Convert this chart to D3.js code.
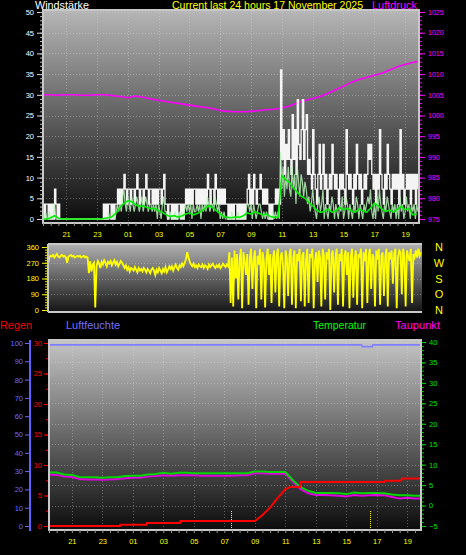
<!DOCTYPE html>
<html><head><meta charset="utf-8">
<script src="https://cdn.jsdelivr.net/npm/d3@7"></script>
<style>
html,body{margin:0;padding:0;background:#000;}
svg{display:block;}
text{font-family:"Liberation Sans",Arial,sans-serif;}
</style>
</head><body>
<svg id="chart" width="466" height="555"></svg>
<script>
// ---------- DATA ----------
// hours are counted from 16 Nov 2025 00:00
const windStartHour = 19.5;       // 16 Nov 19:30
const windStepHours = 5 / 60;     // 5 minute samples
const gust = [
 3.6,0,3.6,3.6,0,3.6,0,3.6,0,7.2,3.6,0,
 3.6,0,0,0,0,0,0,0,0,0,0,0,
 0,0,0,0,0,0,0,0,0,0,0,0,
 0,0,0,0,0,0,0,0,0,0,0,3.6,
 0,3.6,0,3.6,3.6,0,3.6,0,3.6,3.6,7.2,3.6,
 7.2,3.6,7.2,10.8,7.2,3.6,7.2,7.2,3.6,7.2,7.2,3.6,
 7.2,10.8,7.2,3.6,7.2,7.2,3.6,7.2,10.8,7.2,3.6,7.2,
 7.2,3.6,7.2,3.6,7.2,3.6,7.2,7.2,3.6,7.2,10.8,3.6,
 3.6,0,3.6,3.6,0,3.6,0,3.6,0,3.6,3.6,0,
 3.6,0,3.6,7.2,3.6,7.2,3.6,7.2,3.6,7.2,7.2,3.6,
 7.2,3.6,7.2,3.6,7.2,3.6,7.2,3.6,10.8,7.2,3.6,7.2,
 7.2,3.6,10.8,7.2,3.6,7.2,3.6,7.2,3.6,7.2,3.6,3.6,
 0,3.6,0,3.6,0,3.6,3.6,0,3.6,0,3.6,0,
 3.6,0,3.6,7.2,10.8,3.6,7.2,3.6,10.8,7.2,3.6,7.2,
 7.2,10.8,7.2,3.6,7.2,3.6,7.2,3.6,0,3.6,0,3.6,
 3.6,7.2,3.6,7.2,3.6,36,14.4,21.6,10.8,18,14.4,21.6,
 14.4,10.8,25.2,14.4,21.6,10.8,28.8,18,14.4,21.6,28.8,14.4,
 21.6,25.2,10.8,14.4,10.8,7.2,21.6,10.8,7.2,3.6,10.8,18,
 7.2,10.8,18,7.2,10.8,3.6,7.2,10.8,7.2,18,10.8,7.2,
 10.8,7.2,3.6,10.8,7.2,10.8,7.2,3.6,21.6,10.8,7.2,10.8,
 7.2,3.6,10.8,7.2,18,10.8,7.2,10.8,3.6,7.2,10.8,7.2,
 10.8,18,14.4,18,10.8,7.2,10.8,3.6,10.8,7.2,21.6,10.8,
 7.2,3.6,10.8,7.2,18,10.8,7.2,3.6,10.8,7.2,10.8,7.2,
 10.8,3.6,21.6,7.2,10.8,3.6,7.2,10.8,7.2,10.8,3.6,10.8,
 7.2,10.8,3.6,10.8,7.2
];
const windSpeed = [
 0,0,1.8,0,0,1.8,0,0,0,3.6,0,0,
 0,0,0,0,0,0,0,0,0,0,0,0,
 0,0,0,0,0,0,0,0,0,0,0,0,
 0,0,0,0,0,0,0,0,0,0,0,0,
 0,0,0,1.8,0,0,1.8,0,0,1.8,3.6,1.8,
 3.6,1.8,5.4,7.2,3.6,1.8,5.4,3.6,1.8,5.4,3.6,1.8,
 3.6,5.4,3.6,1.8,3.6,5.4,1.8,3.6,5.4,3.6,1.8,3.6,
 3.6,1.8,3.6,1.8,3.6,0,3.6,1.8,0,3.6,5.4,1.8,
 1.8,0,0,1.8,0,0,0,1.8,0,0,1.8,0,
 1.8,0,1.8,3.6,1.8,3.6,1.8,3.6,0,3.6,1.8,1.8,
 3.6,1.8,3.6,0,3.6,1.8,3.6,1.8,5.4,3.6,1.8,3.6,
 3.6,1.8,5.4,3.6,1.8,3.6,0,1.8,0,1.8,0,0,
 0,0,0,1.8,0,0,0,0,1.8,0,0,0,
 0,0,1.8,3.6,3.6,1.8,3.6,0,3.6,1.8,0,1.8,
 3.6,3.6,1.8,0,1.8,0,1.8,0,0,0,0,1.8,
 0,1.8,0,1.8,0,16.2,7.2,12.6,5.4,10.8,7.2,12.6,
 7.2,5.4,12.6,7.2,10.8,3.6,12.6,9,5.4,10.8,9,5.4,
 9,7.2,3.6,5.4,1.8,3.6,7.2,3.6,1.8,0,3.6,5.4,
 1.8,3.6,7.2,0,3.6,1.8,0,3.6,1.8,5.4,3.6,0,
 3.6,1.8,0,3.6,1.8,5.4,0,1.8,5.4,3.6,0,3.6,
 1.8,0,3.6,1.8,5.4,3.6,0,3.6,1.8,0,3.6,1.8,
 3.6,5.4,3.6,7.2,1.8,0,3.6,0,5.4,1.8,7.2,3.6,
 1.8,0,3.6,1.8,5.4,3.6,1.8,0,3.6,1.8,3.6,0,
 3.6,0,5.4,1.8,3.6,0,1.8,5.4,1.8,3.6,0,3.6,
 1.8,3.6,0,3.6,1.8
];
const windDir = [
 260,300,310,305,315,300,310,320,305,300,310,315,
 305,310,300,270,305,310,315,305,310,300,305,310,
 305,310,300,305,310,300,305,300,210,280,220,260,
 270,15,250,280,265,240,275,260,285,270,250,275,
 265,280,255,270,285,260,275,250,265,280,270,255,
 240,255,230,245,220,240,235,225,245,230,215,240,
 225,235,220,240,230,215,235,225,210,230,240,225,
 200,230,215,240,225,210,235,220,245,215,230,250,
 235,250,225,245,260,240,230,255,245,265,250,270,
 290,330,300,275,260,250,265,245,255,240,260,250,
 245,260,240,255,250,235,260,245,255,265,250,240,
 255,245,260,240,250,265,255,245,260,250,330,40,
 300,20,340,180,320,60,290,350,10,330,280,200,
 320,30,300,350,120,290,340,10,310,260,350,60,
 330,280,15,300,350,200,320,40,290,340,100,310,
 350,20,300,330,250,10,340,300,80,320,350,30,
 300,340,10,320,280,350,50,310,330,20,290,350,
 40,320,300,350,10,280,330,160,340,300,20,350,
 310,60,330,290,350,0,320,340,100,300,350,30,
 320,280,350,20,310,340,200,330,10,300,350,70,
 290,340,30,320,300,350,10,330,280,350,40,310,
 350,120,320,300,20,340,290,350,30,310,330,80,
 300,350,20,330,290,340,150,320,350,10,300,340,
 330,90,350,300,20,340,310,280,350,40,320,300,
 340,300,350,310,330
];
const avgStepHours = 15 / 60;
const windAvg = [
 0,0,0.3,0.8,0.2,0,0,0,0,0,0,0,0,0,0,0,0.2,0.3,
 0.6,1.5,2.8,3.8,4.4,4.2,3.5,3.0,3.2,2.8,2.5,2.6,2.0,1.6,1.0,0.6,
 0.8,0.5,0.7,1.2,1.5,1.0,1.3,1.8,2.5,3.2,2.8,2.0,1.2,0.6,0.4,0.3,
 0.5,0.4,0.8,1.5,1.2,1.8,1.4,1.0,1.2,0.6,0.4,0.5,
 10.5,9.5,8.8,7.5,6.5,5.5,5.0,4.0,3.2,2.2,1.6,1.8,
 2.4,1.6,2.0,2.8,2.2,2.6,2.0,1.6,2.4,2.0,1.6,2.6,
 3.8,3.2,2.4,1.8,2.2,1.6,2.4,3.0,2.2,2.6,1.0,1.2
];
const halfStepHours = 0.5;        // 30 minute samples from 19:30
const pressure = [
 1005.0,1005.0,1004.9,1005.0,1005.0,1004.9,1004.9,1005.0,1005.0,
 1004.8,1004.6,1004.3,1004.7,1004.4,1004.0,1003.7,1003.4,1003.1,1002.8,
 1002.5,1002.2,1002.0,1001.7,1001.2,1001.0,1000.9,1000.9,1001.0,1001.2,
 1001.4,1001.5,1001.8,1002.3,1003.0,1003.6,1004.1,1004.6,1005.4,1006.2,
 1007.1,1008.0,1008.7,1009.2,1009.7,1010.2,1011.0,1011.8,1012.3,1012.8,1013.2
];
const temperature = [
 8.1,8.1,7.6,7.5,7.0,6.9,6.9,6.8,6.9,
 6.9,7.2,7.3,7.3,7.6,7.7,8.0,7.8,8.0,8.0,
 7.9,7.9,7.9,7.9,7.9,7.9,7.9,7.9,
 8.3,8.3,8.2,8.2,8.2,
 6.2,4.5,3.6,3.1,3.1,3.1,3.0,2.8,3.2,3.0,
 3.1,3.1,3.0,2.7,2.5,2.5,2.4,2.4
];
const dewPoint = [
 7.6,7.5,7.1,7.0,6.5,6.4,6.4,6.3,6.4,
 6.5,6.7,6.8,6.8,7.1,7.2,7.4,7.3,7.4,7.4,
 7.4,7.3,7.3,7.3,7.3,7.3,7.4,7.4,
 7.9,7.9,7.8,7.8,7.8,
 5.8,4.0,3.0,2.6,2.6,2.5,2.4,2.2,2.6,2.4,
 2.5,2.6,2.5,2.1,1.7,1.9,1.7,1.7
];
const rainHours  = [19.5,24.15,24.17,25.9,25.92,28.1,28.12,33.0,33.2,33.5,34.0,34.5,35.0,35.3,35.96,36.0,41.5,41.55,42.6,42.65,43.9];
const rainValues = [0,0,0.2,0.2,0.5,0.5,0.8,0.8,1.2,1.8,3.0,4.6,6.0,6.4,6.4,7.2,7.2,7.4,7.4,7.8,7.8];
const humidityHours  = [19.5,40.0,40.05,40.7,40.75,43.9];
const humidityValues = [99,99,98,98,99,99];
const sunEvents = [31.43, 40.55];   // sunrise, sunset
const windTicks = [0,5,10,15,20,25,30,35,40,45,50];
const pressureTicks = [975,980,985,990,995,1000,1005,1010,1015,1020,1025];
const dirTicks = [0,90,180,270,360];
const dirLetters = ["N","W","S","O","N"];
const humidityTicks = [0,10,20,30,40,50,60,70,80,90,100];
const rainTicks = [0,5,10,15,20,25,30];
const tempTicks = [-5,0,5,10,15,20,25,30,35,40];

// ---------- SETUP ----------
const base = new Date(2025, 10, 16, 0, 0).getTime();
const at = h => new Date(base + h * 3600000);
const tStart = at(19.5), tEnd = at(43.9);
const fmtH = d3.timeFormat("%H");
const hourTicks = d3.range(21, 44, 2).map(at);
const halfHourTicks = d3.range(19.5, 44, 0.5).map(at);

const svg = d3.select("#chart");
const defs = svg.append("defs");
function grad(id, c1, c2) {
  const g = defs.append("linearGradient").attr("id", id).attr("x1",0).attr("y1",0).attr("x2",0).attr("y2",1);
  g.append("stop").attr("offset","0%").attr("stop-color",c1);
  g.append("stop").attr("offset","100%").attr("stop-color",c2);
}
grad("gTop", "#b6b6b6", "#0a0a0a");
grad("gDir", "#b0b0b0", "#141414");
grad("gBot", "#c4c4c4", "#0c0c0c");

function panel(id, x, y, w, h, gid) {
  defs.append("clipPath").attr("id", id).append("rect").attr("x", x).attr("y", y).attr("width", w).attr("height", h);
  svg.append("rect").attr("x", x).attr("y", y).attr("width", w).attr("height", h).attr("fill", `url(#${gid})`);
}
function frame(x, y, w, h) {
  svg.append("rect").attr("x", x).attr("y", y).attr("width", w).attr("height", h)
    .attr("fill","none").attr("stroke","#c8c8c8").attr("stroke-width",2);
}
function styleAxis(g, color, size) {
  g.select(".domain").remove();
  g.selectAll("line").attr("stroke", color);
  g.selectAll("text").attr("fill", color).attr("font-size", size).attr("font-family", '"Liberation Sans",Arial,sans-serif');
  g.attr("font-size", size);
}
function hgrid(xs, ys, vals, x0, x1) {
  svg.append("g").selectAll("line").data(vals).join("line")
    .attr("x1", x0).attr("x2", x1).attr("y1", d => Math.round(ys(d)) + 0.5).attr("y2", d => Math.round(ys(d)) + 0.5)
    .attr("stroke", "#e0e0e0").attr("stroke-opacity", 0.35).attr("stroke-dasharray", "1,2");
}
function vgrid(xs, y0, y1) {
  svg.append("g").selectAll("line").data(hourTicks).join("line")
    .attr("x1", d => Math.round(xs(d)) + 0.5).attr("x2", d => Math.round(xs(d)) + 0.5).attr("y1", y0).attr("y2", y1)
    .attr("stroke", "#e0e0e0").attr("stroke-opacity", 0.35).attr("stroke-dasharray", "1,2");
}
const txt = (x, y, s, color, size, len) => {
  const t = svg.append("text").attr("x", x).attr("y", y).text(s)
    .attr("fill", color).attr("font-size", size);
  if (len) t.attr("textLength", len).attr("lengthAdjust", "spacingAndGlyphs");
  return t;
};

// ---------- TOP PANEL: wind + pressure ----------
const TX = 43, TY = 10, TW = 376, TH = 213;
const xTop = d3.scaleTime().domain([tStart, tEnd]).range([TX, TX + TW]);
const yWind = d3.scaleLinear().domain([0, 50]).range([219, 12]);
const yPres = d3.scaleLinear().domain([975, 1025]).range([219, 12]);
panel("cTop", TX, TY, TW, TH, "gTop");
hgrid(xTop, yWind, windTicks.slice(1), TX, TX + TW);
vgrid(xTop, TY, TY + TH);

const wt = i => at(windStartHour + i * windStepHours);
const gT = svg.append("g").attr("clip-path", "url(#cTop)");
gT.append("path").datum(pressure).attr("fill","none").attr("stroke","#ff00ff").attr("stroke-width",1.6)
  .attr("d", d3.line().x((d,i) => xTop(at(windStartHour + i * halfStepHours))).y(d => yPres(d)));
gT.append("path").datum(gust).attr("fill","none").attr("stroke","#f4f4f4").attr("stroke-width",1.3)
  .attr("d", d3.line().x((d,i) => xTop(wt(i))).y(d => yWind(d)).curve(d3.curveStepAfter));
gT.append("path").datum(windSpeed).attr("fill","none").attr("stroke","#b8f2b8").attr("stroke-opacity",0.85).attr("stroke-width",1.2)
  .attr("d", d3.line().x((d,i) => xTop(wt(i))).y(d => yWind(d)));
gT.append("path").datum(windAvg).attr("fill","none").attr("stroke","#00ee00").attr("stroke-width",1.6)
  .attr("d", d3.line().x((d,i) => xTop(at(windStartHour + i * avgStepHours))).y(d => yWind(d)));
frame(TX, TY, TW, TH);

const axWl = svg.append("g").attr("transform", `translate(${TX-1},0)`)
  .call(d3.axisLeft(yWind).tickValues(windTicks).tickSize(5).tickPadding(3));
styleAxis(axWl, "#dcdcdc", "7.5px");
axWl.selectAll("text").attr("fill", "#ffffff");
const axWm = svg.append("g").attr("transform", `translate(${TX-1},0)`)
  .call(d3.axisLeft(yWind).tickValues(d3.range(0, 51, 1)).tickSize(2).tickFormat(""));
styleAxis(axWm, "#bdbdbd", "7px");
const axP = svg.append("g").attr("transform", `translate(${TX+TW+1},0)`)
  .call(d3.axisRight(yPres).tickValues(pressureTicks).tickSize(5).tickPadding(3).tickFormat(d3.format("d")));
styleAxis(axP, "#ff00ff", "7px");
const axPm = svg.append("g").attr("transform", `translate(${TX+TW+1},0)`)
  .call(d3.axisRight(yPres).tickValues(d3.range(975, 1026, 1)).tickSize(2).tickFormat(""));
styleAxis(axPm, "#ff00ff", "7px");
const axTx = svg.append("g").attr("transform", `translate(0,${TY+TH})`)
  .call(d3.axisBottom(xTop).tickValues(halfHourTicks).tickSize(3).tickFormat(""));
styleAxis(axTx, "#9a9a9a", "7px");
const axTl = svg.append("g").attr("transform", `translate(0,${TY+TH})`)
  .call(d3.axisBottom(xTop).tickValues(hourTicks).tickSize(0).tickPadding(9).tickFormat(fmtH));
styleAxis(axTl, "#ffff00", "7.5px");

txt(35, 9, "Windstärke", "#ffffff", "11px", 54);
txt(172, 9, "Current last 24 hours 17 November 2025", "#ffff00", "11px", 191);
txt(372, 9, "Luftdruck", "#ff00ff", "11px", 45);

// ---------- WIND DIRECTION PANEL ----------
const DX = 48, DY = 244, DW = 374, DH = 68;
const xDir = d3.scaleTime().domain([tStart, tEnd]).range([DX, DX + DW]);
const yDir = d3.scaleLinear().domain([0, 360]).range([310, 247]);
panel("cDir", DX, DY, DW, DH, "gDir");
hgrid(xDir, yDir, [90, 180, 270], DX, DX + DW);
svg.append("g").attr("clip-path", "url(#cDir)").append("path").datum(windDir)
  .attr("fill","none").attr("stroke","#ffff00").attr("stroke-width",1.8)
  .attr("d", d3.line().x((d,i) => xDir(wt(i))).y(d => yDir(d)));
svg.append("line").attr("x1",DX).attr("x2",DX+DW).attr("y1",DY).attr("y2",DY).attr("stroke","#c8c8c8").attr("stroke-width",2);
svg.append("line").attr("x1",DX).attr("x2",DX+DW).attr("y1",DY+DH).attr("y2",DY+DH).attr("stroke","#c8c8c8").attr("stroke-width",2);
svg.append("line").attr("x1",DX).attr("x2",DX).attr("y1",DY).attr("y2",DY+DH).attr("stroke","#c8c8c8").attr("stroke-width",2);
const axD = svg.append("g").attr("transform", `translate(${DX-1},0)`)
  .call(d3.axisLeft(yDir).tickValues(dirTicks).tickSize(5).tickPadding(3));
styleAxis(axD, "#ffff00", "7.5px");
const axDm = svg.append("g").attr("transform", `translate(${DX-1},0)`)
  .call(d3.axisLeft(yDir).tickValues(d3.range(0, 361, 15)).tickSize(2).tickFormat(""));
styleAxis(axDm, "#e0e000", "7px");
svg.append("g").selectAll("text").data(dirTicks).join("text")
  .attr("x", 439).attr("y", d => yDir(360 - d) + 4).attr("text-anchor", "middle")
  .attr("fill", "#ffff00").attr("font-size", "11px").text((d,i) => dirLetters[i]);

// ---------- BOTTOM PANEL ----------
txt(0, 329, "Regen", "#ff0000", "11px", 32);
txt(66, 329, "Luftfeuchte", "#7070ff", "11px", 54);
txt(313, 329, "Temperatur", "#00ff00", "11px", 53);
txt(395, 329, "Taupunkt", "#ff00ff", "11px", 45);

const BX = 49, BY = 340, BW = 372, BH = 190;
const xBot = d3.scaleTime().domain([tStart, tEnd]).range([BX, BX + BW]);
const yHum = d3.scaleLinear().domain([0, 100]).range([526, 343]);
const yRain = d3.scaleLinear().domain([0, 30]).range([526, 343]);
const yTemp = d3.scaleLinear().domain([-5, 40]).range([526, 342]);
panel("cBot", BX, BY, BW, BH, "gBot");
hgrid(xBot, yTemp, tempTicks.slice(1), BX, BX + BW);
vgrid(xBot, BY, BY + BH);

const gB = svg.append("g").attr("clip-path", "url(#cBot)");
gB.selectAll("line.sun").data(sunEvents).join("line")
  .attr("x1", d => Math.round(xBot(at(d))) + 0.5).attr("x2", d => Math.round(xBot(at(d))) + 0.5)
  .attr("y1", 511).attr("y2", BY + BH)
  .attr("stroke", "#ffff00").attr("stroke-width", 1).attr("stroke-dasharray", "1,1");
const ht = i => at(windStartHour + i * halfStepHours);
gB.append("path").datum(humidityValues).attr("fill","none").attr("stroke","#8080ff").attr("stroke-width",1.6)
  .attr("d", d3.line().x((d,i) => xBot(at(humidityHours[i]))).y(d => yHum(d)));
gB.append("path").datum(dewPoint).attr("fill","none").attr("stroke","#e000e0").attr("stroke-width",2)
  .attr("d", d3.line().x((d,i) => xBot(ht(i))).y(d => yTemp(d)));
gB.append("path").datum(temperature).attr("fill","none").attr("stroke","#00d800").attr("stroke-width",2)
  .attr("d", d3.line().x((d,i) => xBot(ht(i))).y(d => yTemp(d)));
gB.append("path").datum(rainValues).attr("fill","none").attr("stroke","#ff0000").attr("stroke-width",2)
  .attr("d", d3.line().x((d,i) => xBot(at(rainHours[i]))).y(d => yRain(d)));
frame(BX, BY, BW, BH);

// humidity axis
svg.append("line").attr("x1",30).attr("x2",30).attr("y1",BY).attr("y2",BY+BH+1).attr("stroke","#6060ff").attr("stroke-width",2);
const axH = svg.append("g").attr("transform", "translate(29,0)")
  .call(d3.axisLeft(yHum).tickValues(humidityTicks).tickSize(4).tickPadding(2));
styleAxis(axH, "#6a6aff", "7.5px");
const axR = svg.append("g").attr("transform", `translate(${BX-1},0)`)
  .call(d3.axisLeft(yRain).tickValues(rainTicks).tickSize(4).tickPadding(2));
styleAxis(axR, "#ff0000", "7.5px");
const axRm = svg.append("g").attr("transform", `translate(${BX-1},0)`)
  .call(d3.axisLeft(yRain).tickValues(d3.range(0, 30.1, 2.5)).tickSize(2).tickFormat(""));
styleAxis(axRm, "#ff0000", "7px");
const axT = svg.append("g").attr("transform", `translate(${BX+BW+1},0)`)
  .call(d3.axisRight(yTemp).tickValues(tempTicks).tickSize(4).tickPadding(3));
styleAxis(axT, "#00e000", "7.5px");
const axTm = svg.append("g").attr("transform", `translate(${BX+BW+1},0)`)
  .call(d3.axisRight(yTemp).tickValues(d3.range(-5, 41, 1)).tickSize(2).tickFormat(""));
styleAxis(axTm, "#00c000", "7px");
const axBx = svg.append("g").attr("transform", `translate(0,${BY+BH})`)
  .call(d3.axisBottom(xBot).tickValues(halfHourTicks).tickSize(3).tickFormat(""));
styleAxis(axBx, "#9a9a9a", "7px");
const axBl = svg.append("g").attr("transform", `translate(0,${BY+BH})`)
  .call(d3.axisBottom(xBot).tickValues(hourTicks).tickSize(0).tickPadding(9).tickFormat(fmtH));
styleAxis(axBl, "#ffff00", "7.5px");
</script>
</body></html>
